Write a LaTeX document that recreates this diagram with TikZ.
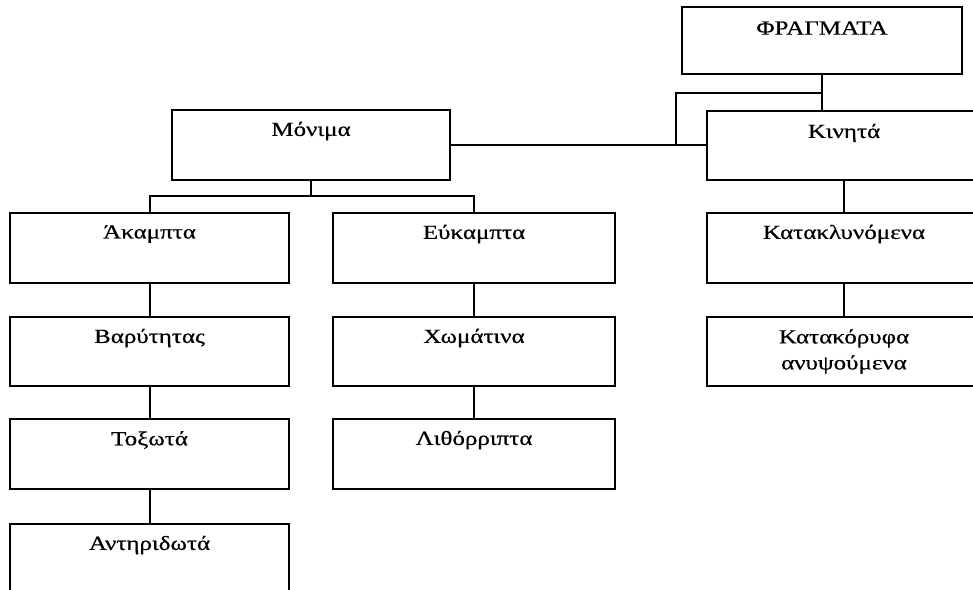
\documentclass[tikz,border=0pt]{standalone}
\usepackage{fontspec}
\setmainfont[FakeStretch=1.25,FakeBold=0.6]{Liberation Serif}
\begin{document}
\begin{tikzpicture}[x=1pt,y=-1pt,
  box/.style={draw, line width=2pt, rectangle, anchor=north west, inner sep=0pt},
  lbl/.style={font=\fontsize{20}{26}\selectfont, align=center, inner sep=0pt},
  conn/.style={line width=2pt}]
\useasboundingbox (0,0) rectangle (973,589);
\clip (0,0) rectangle (973,589);
\fill[white] (0,0) rectangle (973,589);
% boxes
\node[box, minimum width=280pt, minimum height=67pt] (phr) at (681,6) {};
\node[box, minimum width=274pt, minimum height=69pt] (kin) at (706,110) {};
\node[box, minimum width=278pt, minimum height=70pt] (mon) at (171,109) {};
\node[box, minimum width=279pt, minimum height=70pt] (ak) at (9,212) {};
\node[box, minimum width=279pt, minimum height=69pt] (bar) at (9,316) {};
\node[box, minimum width=279pt, minimum height=70pt] (tox) at (9,418) {};
\node[box, minimum width=279pt, minimum height=72pt] (ant) at (9,523) {};
\node[box, minimum width=282pt, minimum height=70pt] (euk) at (332,212) {};
\node[box, minimum width=282pt, minimum height=69pt] (xom) at (332,316) {};
\node[box, minimum width=282pt, minimum height=70pt] (lith) at (332,418) {};
\node[box, minimum width=274pt, minimum height=70pt] (kkl) at (706,212) {};
\node[box, minimum width=274pt, minimum height=69pt] (kka) at (706,316) {};
% labels
\node[lbl] (tphr) at ([yshift=-22pt]phr.north) {ΦΡΑΓΜΑΤΑ};
\node[lbl] (tkin) at ([yshift=-23pt]kin.north) {Κινητά};
\node[lbl] (tmon) at ([yshift=-22pt]mon.north) {Μόνιμα};
\node[lbl] (tak) at ([yshift=-22pt]ak.north) {Άκαμπτα};
\node[lbl] (tbar) at ([yshift=-22pt]bar.north) {Βαρύτητας};
\node[lbl] (ttox) at ([yshift=-22pt]tox.north) {Τοξωτά};
\node[lbl] (tant) at ([yshift=-22pt]ant.north) {Αντηριδωτά};
\node[lbl] (teuk) at ([yshift=-22pt]euk.north) {Εύκαμπτα};
\node[lbl] (txom) at ([yshift=-22pt]xom.north) {Χωμάτινα};
\node[lbl] (tlith) at ([yshift=-22pt]lith.north) {Λιθόρριπτα};
\node[lbl] (tkkl) at ([yshift=-22pt]kkl.north) {Κατακλυνόμενα};
\node[lbl] (tkka) at (kka.center) {Κατακόρυφα\\ανυψούμενα};
% connectors
\coordinate (j0) at (phr.south |- 0,93);
\coordinate (j1) at (676,93);
\coordinate (j2) at (mon.south |- 0,196);
\draw[conn] (phr.south) -- (phr.south |- kin.north);
\draw[conn] (j0) -- (j1) -- (j1 |- mon.east);
\draw[conn] (mon.east) -- (mon.east -| kin.west);
\draw[conn] (mon.south) -- (j2);
\draw[conn] (ak.north) -- (ak.north |- j2) -- (euk.north |- j2) -- (euk.north);
\draw[conn] (ak.south) -- (bar.north);
\draw[conn] (bar.south) -- (tox.north);
\draw[conn] (tox.south) -- (ant.north);
\draw[conn] (euk.south) -- (xom.north);
\draw[conn] (xom.south) -- (lith.north);
\draw[conn] (kin.south) -- (kkl.north);
\draw[conn] (kkl.south) -- (kka.north);
\end{tikzpicture}
\end{document}
